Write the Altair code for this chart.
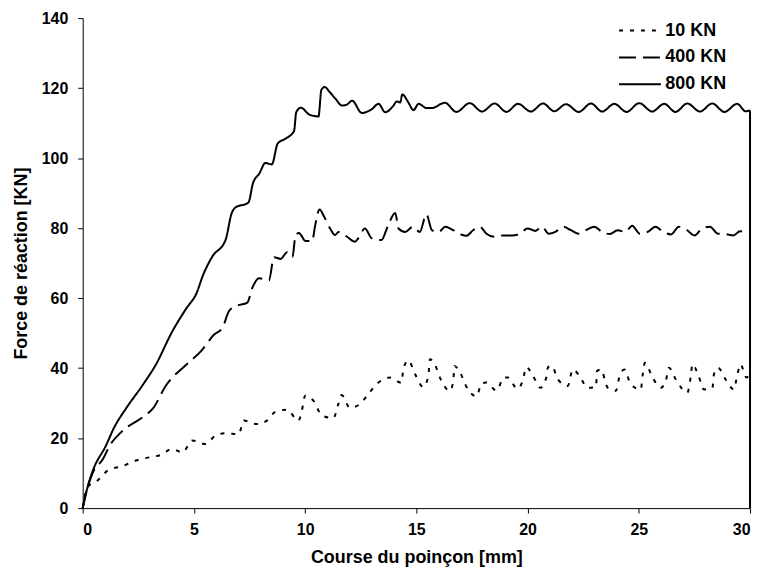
import altair as alt
import pandas as pd

# ---- data ----
series_names = ["10 KN", "400 KN", "800 KN"]

dot_x = [0, 0.22, 0.67, 1.12, 1.79, 2.39, 2.99, 3.51, 4.03, 4.48,
         4.93, 5.52, 5.97, 6.42, 7.01, 7.24, 7.84, 8.28, 8.66, 9.18,
         9.70, 9.85, 10.0, 10.37, 10.75, 11.27, 11.49, 11.64, 12.01, 12.46,
         12.84, 13.28, 13.81, 14.33, 14.42, 14.64, 14.94, 15.31, 15.54, 15.61,
         15.83, 16.06, 16.51, 16.66, 16.71, 16.96, 17.26, 17.70, 17.93, 18.15,
         18.60, 18.94, 19.12, 19.54, 19.80, 19.94, 20.24, 20.58, 20.84, 20.92,
         21.09, 21.36, 21.81, 22.03, 22.33, 22.70, 23.08, 23.12, 23.30, 23.60,
         23.97, 24.12, 24.35, 24.64, 25.09, 25.17, 25.27, 25.62, 25.99, 26.21,
         26.36, 26.66, 27.18, 27.33, 27.41, 27.71, 27.93, 28.31, 28.38, 28.56,
         28.90, 29.27, 29.42, 29.57, 29.84, 30.0]
dot_y = [0, 6.0, 7.9, 10.7, 12.0, 13.6, 14.5, 15.2, 16.9, 15.9,
         19.3, 18.3, 20.7, 21.4, 21.1, 25.0, 24.0, 25.0, 27.5, 28.1,
         25.0, 27.8, 32.1, 30.7, 26.5, 25.7, 29.7, 32.3, 28.7, 29.7,
         32.6, 35.8, 37.3, 35.8, 39.9, 42.2, 38.3, 34.6, 37.8, 42.5,
         41.1, 37.3, 33.5, 36.3, 40.6, 38.8, 34.6, 31.9, 35.6, 35.9,
         33.6, 37.3, 37.3, 34.1, 36.8, 40.3, 37.8, 34.4, 37.3, 40.3,
         40.6, 36.8, 34.9, 39.6, 37.8, 34.4, 34.6, 39.2, 39.6, 34.4,
         33.5, 37.3, 39.6, 35.4, 33.9, 37.8, 41.5, 37.3, 34.4, 36.3,
         40.1, 36.8, 33.0, 37.3, 41.1, 37.3, 33.9, 34.4, 38.3, 40.1,
         36.8, 33.9, 37.8, 41.1, 37.3, 38.6]

dash_x = [0, 0.15, 0.45, 0.91, 1.21, 1.73, 2.70, 3.15, 3.75, 4.64,
          5.31, 5.91, 6.28, 6.58, 6.88, 7.40, 7.63, 7.93, 8.37, 8.60,
          8.90, 9.19, 9.43, 9.57, 9.72, 10.02, 10.32, 10.44, 10.65, 10.85,
          11.12, 11.34, 11.5, 11.87, 12.24, 12.39, 12.69, 12.99, 13.43, 13.73,
          14.05, 14.2, 14.5, 14.85, 15.15, 15.45, 15.7, 16.0, 16.3, 16.65,
          17.0, 17.25, 17.55, 17.85, 18.15, 18.5, 18.9, 19.3, 19.65, 20.0,
          20.35, 20.65, 20.95, 21.25, 21.6, 21.95, 22.3, 22.65, 23.0, 23.35,
          23.7, 24.05, 24.4, 24.7, 25.05, 25.4, 25.75, 26.1, 26.45, 26.8,
          27.15, 27.5, 27.85, 28.2, 28.55, 28.9, 29.25, 29.55, 29.85]
dash_y = [0, 4.3, 10.1, 14.0, 17.8, 21.7, 26.0, 28.4, 35.1, 40.9,
          44.8, 49.6, 51.5, 56.3, 57.7, 58.7, 63.0, 65.7, 65.0, 71.7,
          71.2, 73.1, 71.7, 78.0, 78.6, 76.3, 76.3, 80.4, 85.3, 83.3,
          79.9, 78.0, 78.9, 77.6, 76.1, 77.1, 79.9, 77.1, 76.6, 80.8,
          84.3, 79.9, 78.9, 80.4, 78.9, 83.9, 79.4, 78.9, 80.4, 79.4,
          78.2, 77.8, 79.4, 80.4, 78.4, 77.5, 77.9, 77.9, 78.4, 79.9,
          79.2, 80.4, 78.4, 78.9, 80.4, 79.4, 78.4, 79.5, 80.4, 78.9,
          78.3, 79.4, 78.9, 80.7, 78.4, 78.9, 80.4, 78.9, 78.2, 80.4,
          79.5, 77.9, 79.9, 80.4, 78.4, 78.3, 77.9, 79.1, 78.4]

sol_x = [0, 0.15, 0.45, 1.04, 1.42, 1.94, 2.69, 3.28, 4.03, 4.63,
         5.15, 5.37, 5.82, 6.42, 6.70, 6.85, 7.45, 7.65, 7.95, 8.21,
         8.50, 8.77, 9.10, 9.50, 9.60, 9.80, 10.20, 10.60, 10.73, 10.88,
         11.10, 11.36, 11.66, 11.88, 12.11, 12.55, 13.00, 13.30, 13.60, 13.97,
         14.12, 14.27, 14.37, 14.64, 14.87, 15.10, 15.46, 15.69, 16.28, 16.80,
         17.40, 17.95, 18.52, 19.05, 19.57, 20.15, 20.69, 21.20, 21.73, 22.30,
         22.85, 23.35, 23.90, 24.45, 25.02, 25.60, 26.14, 26.65, 27.18, 27.75,
         28.30, 28.85, 29.42, 29.80, 30.0]
sol_y = [0, 4.3, 10.6, 17.8, 23.1, 28.4, 35.1, 40.9, 50.5, 56.8,
         61.9, 65.9, 71.8, 76.6, 84.3, 85.8, 87.3, 92.7, 95.7, 98.6,
         98.2, 104.2, 105.5, 107.7, 113.1, 114.4, 112.4, 111.9, 119.5, 120.3,
         118.9, 117.0, 115.0, 115.3, 116.4, 112.9, 114.0, 115.5, 113.1, 115.0,
         116.2, 115.9, 118.2, 115.9, 113.7, 115.5, 114.3, 114.3, 115.8, 113.2,
         115.7, 113.3, 115.6, 113.2, 115.5, 113.3, 115.6, 113.4, 115.4, 113.2,
         115.6, 113.3, 115.5, 113.2, 115.7, 113.3, 115.5, 113.2, 115.6, 113.3,
         115.6, 113.2, 115.5, 113.4, 113.6]

x_ticks = [0, 5, 10, 15, 20, 25, 30]
y_ticks = [0, 20, 40, 60, 80, 100, 120, 140]

# ---- build table ----
frames = []
for name, xs, ys in zip(series_names, [dot_x, dash_x, sol_x], [dot_y, dash_y, sol_y]):
    frames.append(pd.DataFrame({"x": xs, "y": ys, "series": name}))
df = pd.concat(frames, ignore_index=True)

drop = pd.DataFrame({"x": [sol_x[-1]], "y": [sol_y[-1]], "y0": [0]})

FONT = "Liberation Sans"

xscale = alt.Scale(domain=[0, 30], nice=False, zero=False)
yscale = alt.Scale(domain=[0, 140], nice=False)

lines = alt.Chart(df).mark_line(
    color="black", strokeWidth=2, interpolate="monotone"
).encode(
    x=alt.X("x:Q", scale=xscale,
            axis=alt.Axis(values=x_ticks, title="Course du poinçon [mm]",
                          grid=False, tickSize=5, labelPadding=8,
                          titlePadding=12)),
    y=alt.Y("y:Q", scale=yscale,
            axis=alt.Axis(values=y_ticks, title="Force de réaction [KN]",
                          grid=False, tickSize=5, labelPadding=10,
                          titlePadding=11)),
    strokeDash=alt.StrokeDash(
        "series:N",
        scale=alt.Scale(domain=series_names, range=[[4, 7], [17, 7], [1, 0]]),
        legend=alt.Legend(
            title=None, orient="none", legendX=548, legendY=1,
            symbolType="M-2,0H2", symbolSize=441, symbolStrokeWidth=2,
            symbolStrokeColor="black", labelFont=FONT, labelFontSize=18,
            labelFontWeight="bold", labelColor="black", labelOffset=14,
            rowPadding=6, padding=0,
        ),
    ),
    order=alt.Order("series:N"),
)

drop_rule = alt.Chart(drop).mark_rule(color="black", strokeWidth=2).encode(
    x=alt.X("x:Q", scale=xscale),
    y=alt.Y("y:Q", scale=yscale),
    y2="y0:Q",
)

chart = alt.layer(lines, drop_rule).properties(
    width=670, height=492,
    autosize=alt.AutoSizeParams(type="none"),
    padding={"left": 75, "top": 9, "right": 5, "bottom": 60},
).configure_view(stroke=None).configure_axis(
    domainColor="black", tickColor="black", labelColor="black",
    titleColor="black", labelFont=FONT, titleFont=FONT,
    labelFontSize=16, titleFontSize=18, labelFontWeight="bold",
    titleFontWeight="bold", domainWidth=1, tickWidth=1,
)

chart.save("out.html", embed_options={"renderer": "svg", "actions": False})
